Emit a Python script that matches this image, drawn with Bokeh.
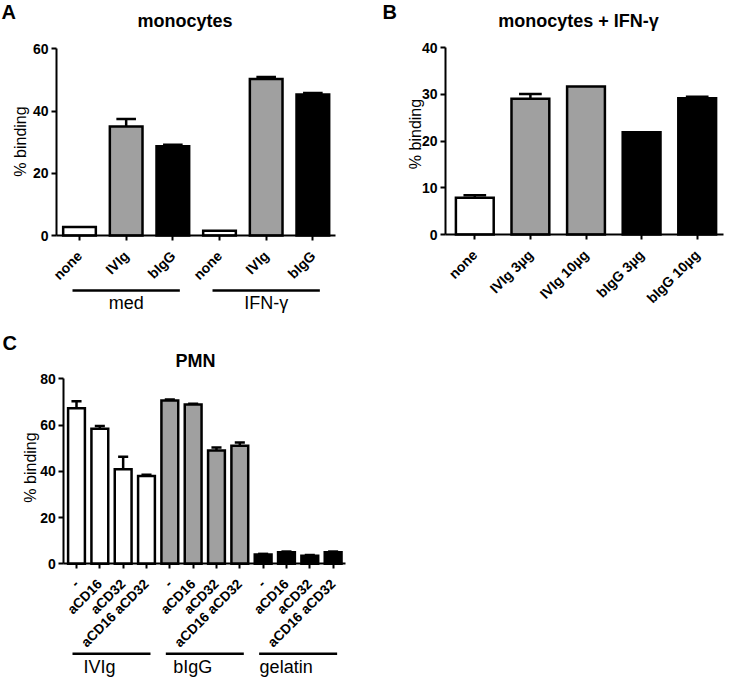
import math
from bokeh.plotting import figure
from bokeh.models import Range1d, LinearAxis, FixedTicker, ColumnDataSource
from bokeh.layouts import column, row
from bokeh.embed import file_html
from bokeh.resources import INLINE
from bokeh.core.properties import value

FONT = "Liberation Sans"

# ---------------- data ----------------
a_title = "monocytes"
a_labels = ["none", "IVIg", "bIgG", "none", "IVIg", "bIgG"]
a_treat = ["none", "IVIg", "bIgG", "none", "IVIg", "bIgG"]
a_means = [2.7, 35.0, 28.7, 1.5, 50.3, 45.3]
a_sem = [0.0, 2.4, 0.5, 0.0, 0.6, 0.5]
a_groups = ["med", "IFN-γ"]
a_group_members = [[0, 1, 2], [3, 4, 5]]
a_yticks = [0, 20, 40, 60]

b_title = "monocytes + IFN-γ"
b_labels = ["none", "IVIg 3µg", "IVIg 10µg", "bIgG 3µg", "bIgG 10µg"]
b_treat = ["none", "IVIg", "IVIg", "bIgG", "bIgG"]
b_means = [7.9, 29.1, 31.7, 21.9, 29.2]
b_sem = [0.5, 1.0, 0.0, 0.0, 0.3]
b_yticks = [0, 10, 20, 30, 40]

c_title = "PMN"
c_labels = ["-", "aCD16", "aCD32", "aCD16 aCD32",
            "-", "aCD16", "aCD32", "aCD16 aCD32",
            "-", "aCD16", "aCD32", "aCD16 aCD32"]
c_treat = ["IVIg"] * 4 + ["bIgG"] * 4 + ["gelatin"] * 4
c_means = [67.3, 58.4, 40.9, 38.0, 70.6, 68.9, 49.0, 51.0, 4.0, 5.0, 3.5, 5.0]
c_sem = [3.0, 1.2, 5.4, 0.5, 0.4, 0.3, 1.3, 1.5, 0.3, 0.3, 0.3, 0.3]
c_groups = ["IVIg", "bIgG", "gelatin"]
c_group_members = [[0, 1, 2, 3], [4, 5, 6, 7], [8, 9, 10, 11]]
c_yticks = [0, 20, 40, 60, 80]

y_label = "% binding"

GRAY = "#a0a0a0"
ab_colors = {"none": "white", "IVIg": GRAY, "bIgG": "black"}
c_colors = {"IVIg": "white", "bIgG": GRAY, "gelatin": "black"}


def panel(letter, title, labels, treat, means, sems, colors, yticks,
          W, H, tick0, dx, yaxis_fx, xend_fx, zero_fy, top_fy,
          bar_w, tick_font, title_xy, letter_xy, ylabel_xy,
          groups=None, members=None, group_line_fy=None, group_ext_px=6,
          group_label_fy=None, group_label_shift_px=0, x_standoff=13):
    ymax = yticks[-1]
    ppy = (zero_fy - top_fy) / ymax

    def X(fx):
        return (fx - tick0) / dx

    def Y(fy):
        return (zero_fy - fy) / ppy

    p = figure(width=W, height=H,
               x_range=Range1d(X(0), X(W)), y_range=Range1d(Y(H), Y(0)),
               output_backend="svg", toolbar_location=None,
               x_axis_location=None, y_axis_location=None,
               min_border=0, min_border_left=0, min_border_right=0,
               min_border_top=0, min_border_bottom=0)
    p.outline_line_color = None
    p.background_fill_color = "white"
    p.border_fill_color = "white"
    p.grid.visible = False
    p.xgrid.visible = False
    p.ygrid.visible = False

    n = len(labels)
    xs = list(range(n))
    src = ColumnDataSource(dict(x=xs, top=means,
                                color=[colors[t] for t in treat]))
    p.vbar(x="x", top="top", bottom=0, width=bar_w, fill_color="color",
           line_color="black", line_width=2.5, line_join="miter", source=src)

    ex = [x for x, s in zip(xs, sems) if s > 0]
    ey0 = [m for m, s in zip(means, sems) if s > 0]
    ey1 = [m + s for m, s in zip(means, sems) if s > 0]
    cw = bar_w * 0.6
    p.segment(x0=ex, y0=ey0, x1=ex, y1=ey1, line_color="black", line_width=2.5)
    p.segment(x0=[x - cw / 2 for x in ex], y0=ey1, x1=[x + cw / 2 for x in ex],
              y1=ey1, line_color="black", line_width=2.5)

    yax = LinearAxis(fixed_location=X(yaxis_fx), bounds=(0, ymax),
                     ticker=FixedTicker(ticks=yticks))
    yax.axis_line_width = 2
    yax.major_tick_line_width = 2
    yax.major_tick_out = 5
    yax.major_tick_in = 0
    yax.minor_tick_line_color = None
    yax.major_label_text_font = FONT
    yax.major_label_text_font_style = "bold"
    yax.major_label_text_font_size = "14px"
    yax.major_label_text_color = "black"
    yax.major_label_standoff = 3
    p.add_layout(yax, "left")

    xax = LinearAxis(fixed_location=0, bounds=(X(yaxis_fx), X(xend_fx)),
                     ticker=FixedTicker(ticks=xs),
                     major_label_overrides={i: lab for i, lab in enumerate(labels)},
                     major_label_orientation=math.pi / 4)
    xax.axis_line_width = 2
    xax.major_tick_line_width = 2
    xax.major_tick_out = 5
    xax.major_tick_in = 0
    xax.minor_tick_line_color = None
    xax.major_label_text_font = FONT
    xax.major_label_text_font_style = "bold"
    xax.major_label_text_font_size = tick_font
    xax.major_label_text_color = "black"
    xax.major_label_standoff = x_standoff
    p.add_layout(xax, "below")

    # y axis title (rotated)
    p.text(x=[X(ylabel_xy[0])], y=[Y(ylabel_xy[1])], text=[y_label],
           angle=math.pi / 2, text_font=value(FONT), text_font_size="16px",
           text_align="center", text_baseline="middle", text_color="black")

    # title and panel letter
    p.text(x=[X(title_xy[0])], y=[Y(title_xy[1])], text=[title],
           text_font=value(FONT), text_font_style="bold", text_font_size="18px",
           text_align="center", text_baseline="middle", text_color="black")
    p.text(x=[X(letter_xy[0])], y=[Y(letter_xy[1])], text=[letter],
           text_font=value(FONT), text_font_style="bold", text_font_size="20px",
           text_align="left", text_baseline="top", text_color="black")

    if groups:
        ext = group_ext_px / dx
        gx0 = [min(m) - ext for m in members]
        gx1 = [max(m) + ext for m in members]
        gy = Y(group_line_fy)
        p.segment(x0=gx0, y0=[gy] * len(groups), x1=gx1, y1=[gy] * len(groups),
                  line_color="black", line_width=2.5)
        gc = [(a + b) / 2 + group_label_shift_px / dx for a, b in zip(gx0, gx1)]
        p.text(x=gc, y=[Y(group_label_fy)] * len(groups), text=groups,
               text_font=value(FONT), text_font_size="18px",
               text_align="center", text_baseline="middle", text_color="black")
    return p


pa = panel("A", a_title, a_labels, a_treat, a_means, a_sem, ab_colors, a_yticks,
           W=372, H=316, tick0=79, dx=46.67, yaxis_fx=56, xend_fx=335,
           zero_fy=235, top_fy=48.3, bar_w=0.70, tick_font="14px",
           title_xy=(184.5, 20), letter_xy=(1, 0), ylabel_xy=(20, 141),
           groups=a_groups, members=a_group_members, group_line_fy=290,
           group_ext_px=7, group_label_fy=302)

pb = panel("B", b_title, b_labels, b_treat, b_means, b_sem, ab_colors, b_yticks,
           W=356, H=316, tick0=102.3, dx=55.6, yaxis_fx=73, xend_fx=351,
           zero_fy=234, top_fy=47.3, bar_w=0.68, tick_font="14px",
           title_xy=(206, 20), letter_xy=(10, 0), ylabel_xy=(415 - 372, 133.5))

pc = panel("C", c_title, c_labels, c_treat, c_means, c_sem, c_colors, c_yticks,
           W=372, H=364, tick0=76, dx=23.33, yaxis_fx=63.3, xend_fx=345,
           zero_fy=247.3, top_fy=62.3, bar_w=0.72, tick_font="13.7px",
           title_xy=(195, 44), letter_xy=(2, 15), ylabel_xy=(30, 151),
           groups=c_groups, members=c_group_members, group_line_fy=337.3,
           group_ext_px=4, group_label_fy=350, group_label_shift_px=-12)

layout = column(row(pa, pb), pc)
open("out.html", "w").write(file_html(layout, INLINE))
